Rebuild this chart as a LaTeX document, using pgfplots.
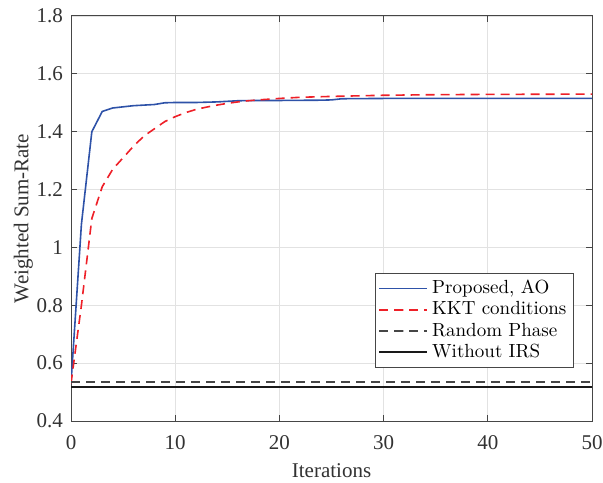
\documentclass[border=0pt]{standalone}
\usepackage{fontspec}
\newfontfamily\timesf{Liberation Serif}
\usepackage{pgfplots}
\pgfplotsset{compat=1.18}
\definecolor{aoblue}{RGB}{46,82,168}
\definecolor{kktred}{RGB}{238,32,40}
\definecolor{axgray}{RGB}{70,70,70}
\definecolor{txtgray}{RGB}{50,50,50}
\definecolor{gridgray}{RGB}{226,226,226}
\begin{document}
\begin{tikzpicture}
\begin{axis}[
  scale only axis,
  width=260.5pt, height=202.5pt,
  xmin=0, xmax=50, ymin=0.4, ymax=1.8,
  xtick={0,10,20,30,40,50},
  ytick={0.4,0.6,0.8,1,1.2,1.4,1.6,1.8},
  tick align=inside,
  major tick length=3pt,
  axis line style={axgray, line width=0.5pt},
  tick style={axgray, line width=0.5pt},
  grid=major,
  grid style={gridgray, line width=0.4pt},
  /pgf/number format/assume math mode=true,
  tick label style={font=\timesf\fontsize{10.5}{12}\selectfont, text=txtgray},
  xticklabel style={yshift=-3.5pt},
  yticklabel style={xshift=-0.5pt},
  label style={font=\timesf\fontsize{10.5}{12}\selectfont, text=txtgray},
  xlabel={Iterations},
  ylabel={Weighted Sum-Rate},
  xlabel style={yshift=-0.5pt},
  ylabel style={yshift=-5pt},
  legend style={at={(0.965,0.131)}, anchor=south east,
    font=\fontsize{9.5}{11}\selectfont, draw=axgray, fill=white,
    inner sep=1.5pt, row sep=-1.5pt,
    cells={anchor=west}},
  legend image code/.code={%
    \draw[mark repeat=2,mark phase=2,#1, line width=0.9pt]
      plot coordinates {(0pt,0pt) (12pt,0pt) (24pt,0pt)};},
]
\addplot[aoblue, line width=0.8pt] coordinates {
  (0,0.53) (1,1.08) (2,1.40) (3,1.47) (4,1.482) (5,1.486) (6,1.490)
  (7,1.492) (8,1.494) (9,1.500) (10,1.501) (12,1.501) (14,1.503)
  (16,1.507) (18,1.508) (20,1.508) (24,1.509) (25,1.510) (26,1.514)
  (30,1.515) (40,1.515) (50,1.515)
};
\addlegendentry{Proposed, AO}
\addplot[kktred, line width=0.8pt, dash pattern=on 4.5pt off 3pt] coordinates {
  (0,0.53) (1,0.80) (2,1.10) (3,1.21) (4,1.27) (5,1.31) (6,1.35)
  (7,1.385) (8,1.41) (9,1.435) (10,1.452) (11,1.466) (12,1.477)
  (13,1.485) (14,1.492) (15,1.498) (16,1.503) (17,1.507) (18,1.510)
  (20,1.515) (22,1.519) (25,1.522) (30,1.526) (35,1.528) (40,1.529)
  (50,1.530)
};
\addlegendentry{KKT conditions}
\addplot[axgray, line width=0.8pt, dash pattern=on 4.5pt off 3pt] coordinates {
  (0,0.534) (50,0.534)
};
\addlegendentry{Random Phase}
\addplot[black!90, line width=0.8pt] coordinates {
  (0,0.517) (50,0.517)
};
\addlegendentry{Without IRS}
\end{axis}
\pgfresetboundingbox
\path ([xshift=-35.5pt,yshift=-30.5pt]current axis.south west)
  rectangle ([xshift=5.5pt,yshift=8pt]current axis.north east);
\end{tikzpicture}
\end{document}
